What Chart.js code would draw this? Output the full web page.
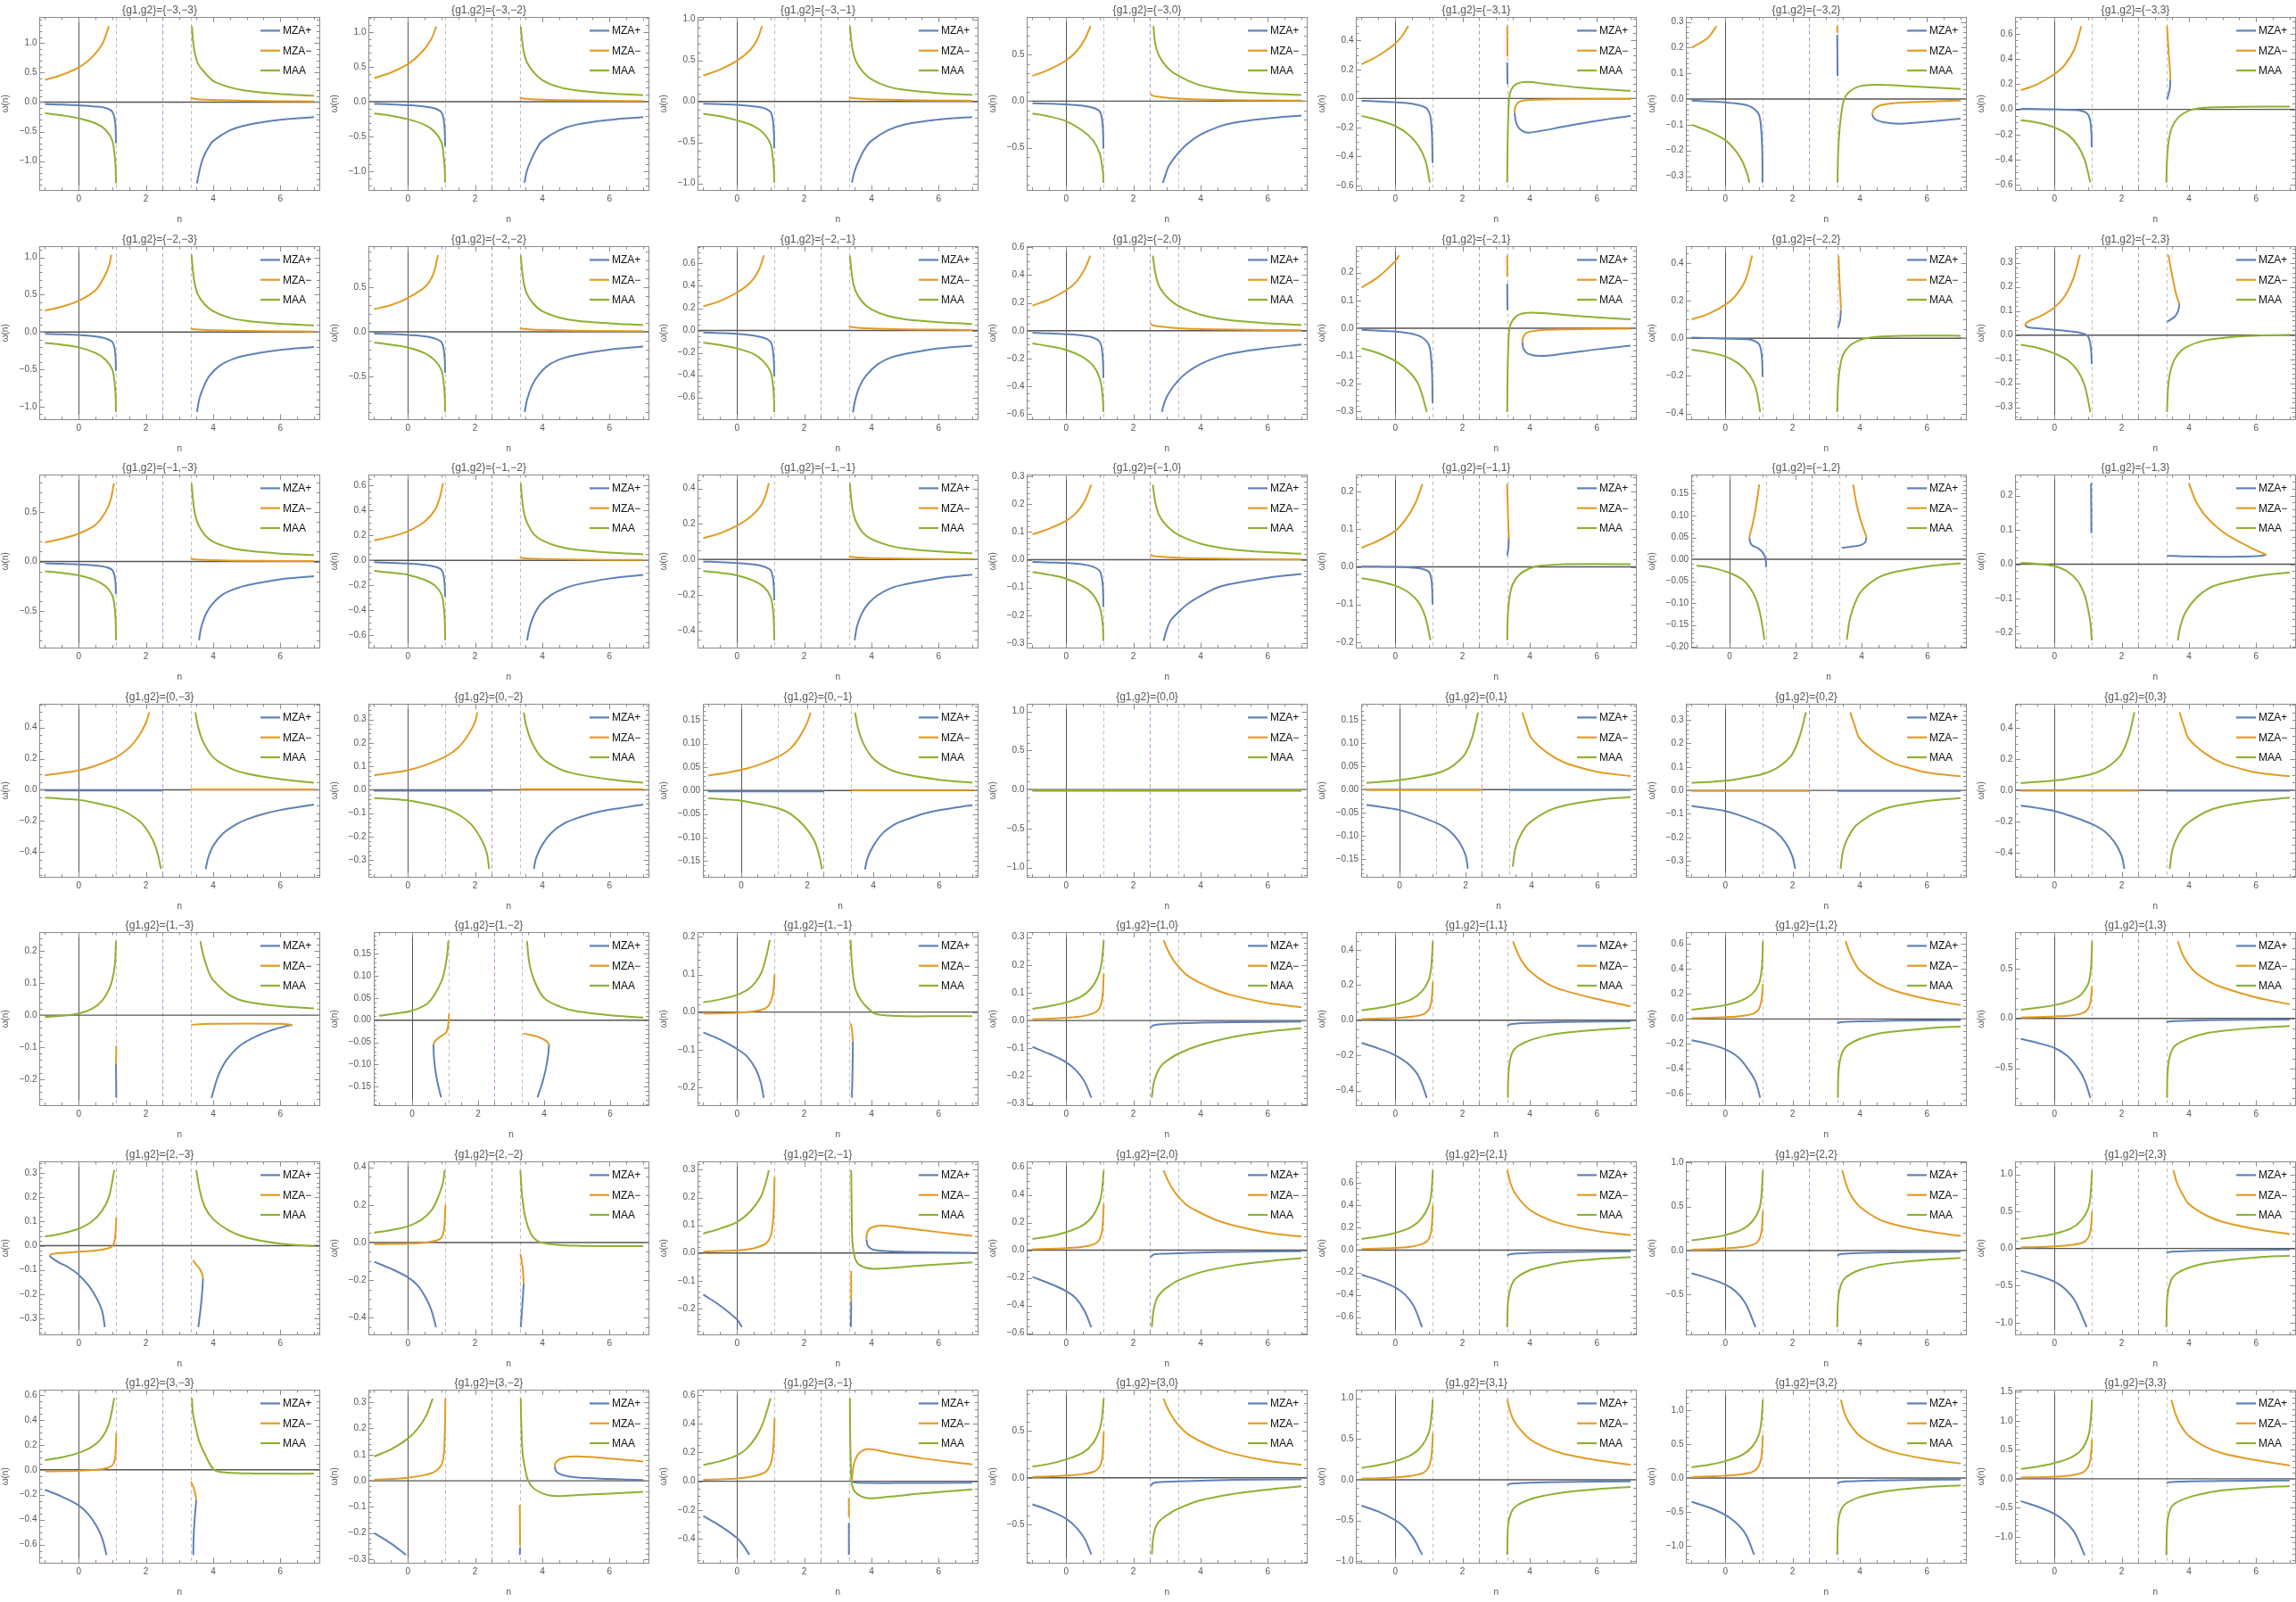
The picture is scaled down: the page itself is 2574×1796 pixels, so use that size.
<!DOCTYPE html>
<html>
<head>
<meta charset="utf-8">
<title>omega(n) grid</title>
<script src="https://cdn.jsdelivr.net/npm/chart.js@4.4.1/dist/chart.umd.min.js"></script>
<style>
  html, body { margin: 0; padding: 0; background: #fff; overflow: hidden; }
  #wrap { position: relative; width: 2574px; height: 1796px; overflow: hidden; }
  #wrap canvas { position: absolute; }
</style>
</head>
<body>
<div id="wrap"></div>
<script>
// panel parameters
const g1List = [-3, -2, -1, 0, 1, 2, 3];
const g2List = [-3, -2, -1, 0, 1, 2, 3];
const seriesNames = ['MZA+', 'MZA\u2212', 'MAA'];
const xTicks = [0, 2, 4, 6];
const guideLines = [1.11, 2.5, 3.33];

// y frame range and major step of each panel (row = g1, col = g2)
const yLow = [
  -1.49, -1.266, -1.08, -0.955, -0.632, -0.354, -0.64,
  -1.17, -0.983, -0.795, -0.637, -0.328, -0.431, -0.35,
  -0.87, -0.697, -0.497, -0.316, -0.215, -0.202, -0.243,
  -0.56, -0.372, -0.184, -1.12, -0.188, -0.368, -0.554,
  -0.281, -0.192, -0.248, -0.305, -0.483, -0.691, -0.87,
  -0.366, -0.49, -0.294, -0.61, -0.755, -0.953, -1.16,
  -0.747, -0.314, -0.568, -0.91, -1.018, -1.248, -1.45
];
const yHigh = [
  1.435, 1.21, 1.025, 0.9, 0.56, 0.318, 0.73,
  1.146, 0.957, 0.752, 0.605, 0.294, 0.4875, 0.368,
  0.875, 0.683, 0.477, 0.305, 0.245, 0.193, 0.26,
  0.551, 0.366, 0.184, 1.094, 0.184, 0.367, 0.552,
  0.258, 0.198, 0.212, 0.317, 0.498, 0.693, 0.861,
  0.346, 0.43, 0.329, 0.64, 0.79, 1.01, 1.17,
  0.64, 0.347, 0.635, 0.94, 1.1, 1.295, 1.53
];
const yStep = [
  .5, .5, .5, .5, .2, .1, .2,
  .5, .5, .2, .2, .1, .2, .1,
  .5, .2, .2, .1, .1, .05, .1,
  .2, .1, .05, .5, .05, .1, .2,
  .1, .05, .1, .1, .2, .2, .5,
  .1, .2, .1, .2, .2, .5, .5,
  .2, .1, .2, .5, .5, .5, .5
];

// curve branches, each one a flat list n,w,n,w,...
const mzaPlus = [
  // g1 = -3
  [[-1,-.035,-.5,-.042,0,-.055,.5,-.075,.8,-.1,1,-.16,1.07,-.28,1.1,-.45,1.11,-.7],[3.52,-1.375,3.6,-1.15,3.7,-.95,3.85,-.78,4,-.66,4.5,-.48,5,-.39,6,-.3,7,-.255]],
  [[-1,-.03,-.5,-.037,0,-.05,.5,-.07,.8,-.095,1,-.15,1.07,-.26,1.1,-.42,1.11,-.64],[3.47,-1.16,3.55,-.98,3.7,-.8,3.85,-.66,4,-.56,4.5,-.41,5,-.33,6,-.26,7,-.22]],
  [[-1,-.028,-.5,-.033,0,-.04,.5,-.06,.8,-.08,1,-.13,1.07,-.23,1.1,-.38,1.11,-.57],[3.42,-.99,3.5,-.85,3.65,-.7,3.8,-.58,4,-.48,4.5,-.35,5,-.28,6,-.22,7,-.19]],
  [[-1,-.022,-.5,-.027,0,-.035,.5,-.05,.8,-.07,1,-.11,1.07,-.2,1.1,-.33,1.11,-.51],[2.88,-.877,2.95,-.8,3.05,-.7,3.2,-.62,3.33,-.56,3.6,-.46,4,-.36,4.5,-.28,5,-.23,6,-.185,7,-.155]],
  [[-1,-.016,-.5,-.02,0,-.026,.5,-.036,.9,-.063,1.03,-.11,1.08,-.2,1.1,-.3,1.11,-.445],[3.33,.25,3.335,.17,3.34,.1],[3.55,-.1,3.6,-.17,3.7,-.21,3.9,-.235,4.3,-.225,5,-.195,6,-.155,7,-.12]],
  [[-1,-.006,-.5,-.009,0,-.013,.5,-.02,.8,-.033,1,-.06,1.07,-.12,1.1,-.2,1.11,-.325],[3.33,.25,3.335,.17,3.34,.09],[4.37,-.06,4.45,-.078,4.7,-.09,5.2,-.096,6,-.088,7,-.076]],
  [[-1,.005,-.5,.003,0,0,.5,-.004,.8,-.012,1,-.04,1.07,-.1,1.1,-.18,1.11,-.3],[3.45,.235,3.43,.16,3.39,.115,3.35,.08]],
  // g1 = -2
  [[-1,-.025,-.5,-.03,0,-.04,.5,-.06,.8,-.085,1,-.13,1.07,-.22,1.1,-.35,1.11,-.52],[3.52,-1.07,3.6,-.88,3.75,-.7,3.9,-.58,4.2,-.45,4.6,-.36,5,-.31,6,-.24,7,-.2]],
  [[-1,-.02,-.5,-.026,0,-.035,.5,-.05,.8,-.075,1,-.115,1.07,-.2,1.1,-.31,1.11,-.46],[3.48,-.9,3.55,-.76,3.7,-.6,3.9,-.48,4.2,-.37,4.6,-.3,5,-.26,6,-.2,7,-.165]],
  [[-1,-.018,-.5,-.023,0,-.03,.5,-.045,.8,-.065,1,-.1,1.07,-.18,1.1,-.28,1.11,-.41],[3.45,-.733,3.52,-.62,3.65,-.5,3.85,-.4,4.2,-.3,4.6,-.24,5,-.21,6,-.16,7,-.135]],
  [[-1,-.015,-.5,-.019,0,-.025,.5,-.035,.8,-.05,1,-.08,1.07,-.14,1.1,-.23,1.11,-.34],[2.85,-.584,2.92,-.52,3.05,-.45,3.33,-.36,3.6,-.3,4,-.24,4.5,-.19,5,-.16,6,-.125,7,-.1]],
  [[-1,-.006,-.5,-.009,0,-.012,.5,-.02,.8,-.033,1,-.06,1.07,-.11,1.1,-.18,1.11,-.27],[3.33,.16,3.335,.11,3.34,.065],[3.78,-.05,3.82,-.075,3.95,-.092,4.3,-.1,5,-.092,6,-.076,7,-.063]],
  [[-1,.003,-.5,.001,0,-.002,.5,-.005,.8,-.01,1,-.03,1.07,-.07,1.1,-.13,1.11,-.205],[3.44,.15,3.42,.1,3.38,.07,3.35,.056]],
  [[-.87,.04,-.8,.033,-.6,.029,-.3,.026,0,.022,.5,.015,.8,.008,1,-.005,1.07,-.04,1.1,-.08,1.11,-.12],[3.72,.128,3.68,.1,3.6,.08,3.5,.068,3.35,.055]],
  // g1 = -1
  [[-1,-.018,-.5,-.022,0,-.03,.5,-.04,.8,-.055,1,-.085,1.07,-.15,1.1,-.23,1.11,-.33],[3.58,-.795,3.65,-.66,3.8,-.52,4,-.42,4.3,-.33,4.7,-.27,5,-.24,6,-.18,7,-.148]],
  [[-1,-.015,-.5,-.019,0,-.025,.5,-.035,.8,-.05,1,-.075,1.07,-.13,1.1,-.2,1.11,-.29],[3.55,-.638,3.62,-.54,3.75,-.44,3.95,-.35,4.3,-.27,4.7,-.22,5,-.195,6,-.145,7,-.115]],
  [[-1,-.012,-.5,-.015,0,-.02,.5,-.028,.8,-.04,1,-.06,1.07,-.1,1.1,-.16,1.11,-.23],[3.5,-.455,3.57,-.38,3.7,-.31,3.9,-.25,4.2,-.2,4.6,-.16,5,-.14,6,-.105,7,-.086]],
  [[-1,-.008,-.5,-.01,0,-.012,.5,-.017,.8,-.025,1,-.04,1.07,-.07,1.1,-.11,1.11,-.17],[2.9,-.292,2.97,-.26,3.1,-.22,3.33,-.19,3.6,-.16,4,-.13,4.5,-.1,5,-.085,6,-.065,7,-.051]],
  [[-1,.001,-.5,.0005,0,0,.5,-.002,.8,-.005,1,-.013,1.07,-.03,1.1,-.06,1.11,-.1],[3.38,.075,3.37,.055,3.35,.04,3.33,.03]],
  [[.6,.05,.63,.038,.7,.031,.85,.026,.98,.018,1.06,.008,1.1,-.003,1.11,-.018],[4.15,.05,4.1,.038,3.95,.032,3.7,.029,3.4,.0265]],
  [[1.09,.236,1.095,.16,1.1,.09],[6.31,.027,6.1,.024,5.5,.022,5,.0215,4.5,.022,4,.0225,3.35,.025]],
  // g1 = 0
  [[-1,-.005,2.5,-.005],[3.78,-.51,3.85,-.44,4,-.36,4.3,-.28,4.7,-.22,5,-.19,5.5,-.155,6,-.13,7,-.095]],
  [[-1,-.004,2.5,-.004],[3.75,-.338,3.82,-.29,4,-.235,4.3,-.18,4.7,-.14,5,-.123,5.5,-.1,6,-.085,7,-.063]],
  [[-1,-.002,2.5,-.002],[3.75,-.168,3.82,-.145,4,-.118,4.3,-.09,4.7,-.07,5,-.062,5.5,-.05,6,-.042,7,-.031]],
  [[-1,-.012,7,-.012]],
  [[-1,-.033,-.5,-.038,0,-.044,.5,-.055,1.12,-.072,1.5,-.088,1.8,-.112,2,-.141,2.07,-.17],[3.33,-.001,7,-.001]],
  [[-1,-.066,-.5,-.076,0,-.088,.5,-.11,1.12,-.144,1.5,-.176,1.8,-.224,2,-.282,2.08,-.334],[3.33,-.002,7,-.002]],
  [[-1,-.098,-.5,-.113,0,-.132,.5,-.165,1.12,-.216,1.5,-.264,1.8,-.336,2,-.42,2.08,-.503],[3.33,-.003,7,-.003]],
  // g1 = 1
  [[1.11,-.153,1.115,-.2,1.12,-.258],[6.35,-.03,6.2,-.033,5.8,-.045,5.3,-.065,4.8,-.095,4.4,-.14,4.15,-.19,3.95,-.258]],
  [[.65,-.055,.66,-.08,.7,-.11,.77,-.14,.88,-.174],[4.15,-.055,4.12,-.08,4.05,-.11,3.95,-.14,3.8,-.174]],
  [[-1,-.054,-.5,-.073,0,-.098,.3,-.118,.55,-.15,.7,-.185,.8,-.228],[3.45,-.078,3.44,-.15,3.42,-.228]],
  [[-1,-.095,-.5,-.12,0,-.15,.3,-.18,.55,-.22,.75,-.278],[2.52,-.025,2.6,-.017,3,-.012,4,-.008,5,-.006,7,-.004]],
  [[-1,-.129,-.5,-.16,0,-.199,.4,-.25,.7,-.32,.94,-.441],[3.33,-.032,3.4,-.024,3.6,-.019,4,-.015,5,-.01,7,-.006]],
  [[-1,-.17,-.5,-.2,0,-.243,.4,-.31,.7,-.41,.9,-.5,1.04,-.632],[3.33,-.035,3.4,-.028,3.6,-.023,4,-.019,5,-.014,7,-.01]],
  [[-1,-.206,-.5,-.245,0,-.295,.4,-.38,.7,-.5,.9,-.62,1.07,-.796],[3.33,-.04,3.4,-.032,3.6,-.027,4,-.022,5,-.016,7,-.012]],
  // g1 = 2
  [[-.87,-.041,-.8,-.05,-.6,-.068,-.3,-.09,0,-.12,.3,-.165,.55,-.22,.7,-.27,.78,-.336],[3.7,-.135,3.67,-.2,3.62,-.27,3.56,-.336]],
  [[-1,-.103,-.5,-.14,0,-.185,.3,-.23,.55,-.3,.7,-.36,.84,-.451],[3.45,-.22,3.42,-.3,3.39,-.38,3.36,-.451]],
  [[-1,-.15,-.5,-.19,0,-.24,.15,-.267],[3.4,-.175,3.395,-.22,3.39,-.267],[3.85,.049,3.9,.025,4.05,.012,4.5,.006,5,.004,6,.002,7,.001]],
  [[-1,-.194,-.5,-.24,0,-.296,.3,-.35,.55,-.44,.75,-.557],[2.52,-.05,2.6,-.032,3,-.025,4,-.017,5,-.012,7,-.008]],
  [[-1,-.22,-.5,-.27,0,-.334,.3,-.4,.55,-.5,.8,-.69],[3.33,-.05,3.4,-.038,3.6,-.03,4,-.025,5,-.018,7,-.012]],
  [[-1,-.258,-.5,-.315,0,-.385,.3,-.46,.6,-.6,.9,-.87],[3.33,-.055,3.4,-.043,3.6,-.035,4,-.028,5,-.02,7,-.013]],
  [[-1,-.3,-.5,-.365,0,-.448,.3,-.54,.6,-.7,.96,-1.06],[3.33,-.06,3.4,-.05,3.6,-.04,4,-.033,5,-.024,7,-.016]],
  // g1 = 3
  [[-1,-.161,-.5,-.215,0,-.285,.3,-.36,.55,-.46,.7,-.55,.83,-.683],[3.5,-.242,3.45,-.4,3.42,-.55,3.41,-.683]],
  [[-1,-.2,-.5,-.24,-.05,-.284],[3.34,-.255,3.335,-.27,3.33,-.284],[4.37,.054,4.42,.035,4.6,.022,5,.013,6,.007,7,.003]],
  [[-1,-.242,-.5,-.31,0,-.395,.2,-.45,.37,-.512],[3.33,-.29,3.33,-.4,3.33,-.512],[3.42,0,3.5,-.008,4,-.012,5,-.012,7,-.01]],
  [[-1,-.283,-.5,-.35,0,-.437,.3,-.53,.55,-.65,.75,-.82],[2.52,-.082,2.6,-.055,3,-.042,4,-.03,5,-.022,7,-.015]],
  [[-1,-.317,-.5,-.39,0,-.495,.3,-.59,.55,-.72,.8,-.918],[3.33,-.068,3.4,-.052,3.6,-.043,4,-.035,5,-.026,7,-.018]],
  [[-1,-.35,-.5,-.43,0,-.543,.3,-.65,.6,-.82,.86,-1.128],[3.33,-.08,3.4,-.062,3.6,-.05,4,-.042,5,-.032,7,-.022]],
  [[-1,-.385,-.5,-.48,0,-.605,.3,-.73,.6,-.93,.9,-1.32],[3.33,-.07,3.4,-.06,3.6,-.052,4,-.045,5,-.036,7,-.028]]
];

const mzaMinus = [
  // g1 = -3
  [[-1,.375,-.5,.46,0,.585,.4,.76,.7,.98,.9,1.285],[3.33,.08,3.4,.058,3.6,.045,4,.035,5,.022,6,.015,7,.01]],
  [[-1,.34,-.5,.42,0,.54,.4,.7,.7,.9,.85,1.08],[3.33,.065,3.4,.05,3.6,.04,4,.03,5,.02,6,.013,7,.009]],
  [[-1,.315,-.5,.39,0,.495,.4,.63,.6,.75,.75,.92],[3.33,.055,3.4,.043,3.6,.035,4,.026,5,.017,6,.011,7,.008]],
  [[-1,.27,-.5,.34,0,.437,.3,.53,.55,.66,.73,.807],[2.52,.08,2.56,.06,2.8,.045,3.33,.027,4,.018,5,.011,6,.008,7,.006]],
  [[-1,.236,-.7,.27,-.4,.31,0,.378,.2,.43,.39,.5],[3.33,.5,3.335,.4,3.34,.29],[3.55,-.1,3.57,-.06,3.65,-.03,3.8,-.015,4.2,-.008,5,-.005,7,-.003]],
  [[-1,.2,-.7,.222,-.5,.24,-.26,.284],[3.33,.284,3.335,.259],[4.37,-.06,4.42,-.04,4.6,-.025,5,-.016,6,-.01,7,-.006]],
  [[-1,.152,-.5,.2,0,.28,.3,.35,.6,.48,.8,.66],[3.35,.66,3.4,.45,3.44,.3,3.45,.235]],
  // g1 = -2
  [[-1,.287,-.5,.34,0,.42,.5,.56,.75,.73,.9,.88,.97,1.035],[3.33,.05,3.4,.04,3.6,.032,4,.024,5,.015,6,.01,7,.007]],
  [[-1,.254,-.5,.3,0,.38,.5,.5,.75,.64,.9,.86],[3.33,.045,3.4,.035,3.6,.028,4,.021,5,.013,6,.009,7,.006]],
  [[-1,.216,-.5,.265,0,.34,.4,.43,.65,.54,.8,.673],[3.33,.04,3.4,.032,3.6,.025,4,.018,5,.011,6,.008,7,.005]],
  [[-1,.18,-.5,.225,0,.29,.3,.35,.55,.44,.72,.54],[2.52,.052,2.56,.04,2.8,.03,3.33,.018,4,.012,5,.008,6,.005,7,.004]],
  [[-1,.146,-.5,.185,0,.241,.11,.262],[3.33,.262,3.335,.185],[3.78,-.05,3.82,-.028,3.95,-.014,4.3,-.007,5,-.004,7,-.002]],
  [[-1,.1,-.5,.13,0,.178,.3,.225,.6,.31,.8,.44],[3.37,.44,3.4,.3,3.43,.2,3.44,.15]],
  [[-.87,.04,-.84,.05,-.7,.062,-.4,.08,0,.115,.3,.16,.55,.23,.76,.333],[3.39,.333,3.5,.25,3.62,.17,3.72,.128]],
  // g1 = -1
  [[-1,.193,-.5,.23,0,.282,.5,.37,.8,.5,.95,.62,1.05,.79],[3.33,.03,3.4,.024,3.6,.018,4,.013,5,.008,6,.005,7,.004]],
  [[-1,.16,-.5,.19,0,.232,.5,.31,.8,.4,.95,.5,1.05,.617],[3.33,.025,3.4,.02,3.6,.015,4,.011,5,.007,6,.004,7,.003]],
  [[-1,.121,-.5,.148,0,.19,.4,.24,.7,.3,.85,.36,.95,.43],[3.33,.018,3.4,.015,3.6,.011,4,.008,5,.005,6,.003,7,.002]],
  [[-1,.091,-.5,.112,0,.14,.3,.168,.55,.21,.75,.27],[2.52,.02,2.56,.015,2.8,.011,3.33,.007,4,.005,5,.003,7,.001]],
  [[-1,.051,-.5,.07,0,.096,.3,.125,.6,.17,.81,.221],[3.33,.221,3.35,.15,3.37,.1,3.38,.075]],
  [[.9,.171,.8,.12,.7,.08,.63,.06,.6,.05],[3.74,.171,3.85,.125,3.97,.09,4.08,.065,4.15,.05]],
  [[4,.236,4.2,.185,4.5,.14,5,.095,5.5,.065,5.9,.045,6.15,.034,6.31,.027]],
  // g1 = 0
  [[-1,.095,-.5,.108,0,.125,.5,.155,1.12,.21,1.5,.27,1.8,.35,2,.43,2.1,.498],[3.33,.003,7,.003]],
  [[-1,.062,-.5,.072,0,.084,.5,.104,1.12,.142,1.5,.18,1.8,.235,2,.29,2.07,.33],[3.33,.003,7,.003]],
  [[-1,.032,-.5,.037,0,.044,.5,.054,1.12,.072,1.5,.09,1.8,.118,2,.145,2.1,.166],[3.33,.001,7,.001]],
  [[-1,-.012,7,-.012]],
  [[-1,-.001,2.5,-.001],[3.72,.166,3.85,.138,4,.11,4.5,.078,5,.058,5.5,.047,6,.038,7,.029]],
  [[-1,-.002,2.5,-.002],[3.72,.332,3.85,.276,4,.22,4.5,.156,5,.116,5.5,.094,6,.076,7,.06]],
  [[-1,-.003,2.5,-.003],[3.72,.5,3.85,.414,4,.33,4.5,.234,5,.174,5.5,.141,6,.114,7,.09]],
  // g1 = 1
  [[1.12,-.095,1.115,-.125,1.11,-.153],[3.35,-.03,3.6,-.028,4,-.027,5,-.026,6,-.027,6.35,-.03]],
  [[1.12,.015,1.1,-.008,1.05,-.026,.95,-.033,.8,-.04,.7,-.047,.65,-.055],[3.37,-.03,3.5,-.032,3.75,-.036,3.95,-.042,4.08,-.048,4.15,-.055]],
  [[-1,-.004,-.5,-.003,0,-.002,.5,.002,.8,.008,.95,.018,1.05,.04,1.1,.07,1.12,.1],[3.38,-.03,3.42,-.045,3.45,-.078]],
  [[-1,.004,-.5,.007,0,.01,.5,.016,.85,.028,1,.045,1.07,.075,1.1,.11,1.12,.17],[2.9,.289,3,.26,3.15,.225,3.33,.196,3.6,.163,4,.135,4.5,.108,5,.089,6,.063,7,.048]],
  [[-1,.006,-.5,.009,0,.013,.5,.02,.85,.035,1,.06,1.07,.1,1.1,.15,1.12,.219],[3.5,.448,3.6,.4,3.75,.34,4,.28,4.5,.21,5,.17,6,.12,7,.079]],
  [[-1,.007,-.5,.01,0,.015,.5,.025,.85,.045,1,.08,1.07,.14,1.1,.2,1.12,.28],[3.58,.623,3.7,.53,3.85,.45,4,.39,4.5,.29,5,.23,6,.16,7,.111]],
  [[-1,.01,-.5,.014,0,.02,.5,.03,.85,.055,1,.095,1.07,.16,1.1,.24,1.12,.324],[3.67,.773,3.8,.65,3.95,.56,4.2,.46,4.6,.37,5,.31,6,.21,7,.142]],
  // g1 = 2
  [[-.87,-.041,-.8,-.035,-.6,-.031,-.3,-.028,0,-.025,.5,-.02,.85,-.012,1,-.002,1.07,.02,1.1,.06,1.12,.116],[3.4,-.06,3.48,-.075,3.6,-.095,3.67,-.115,3.7,-.135]],
  [[-1,-.009,-.5,-.008,0,-.006,.5,-.001,.85,.01,1,.025,1.07,.06,1.1,.12,1.12,.2],[3.35,-.06,3.38,-.09,3.42,-.14,3.45,-.22]],
  [[-1,.005,-.5,.007,0,.0095,.5,.017,.85,.033,1,.06,1.07,.11,1.1,.18,1.12,.273],[3.4,-.065,3.4,-.12,3.4,-.175],[3.85,.049,3.87,.07,3.95,.088,4.2,.098,4.5,.097,5,.09,6,.075,7,.062]],
  [[-1,.007,-.5,.01,0,.015,.5,.025,.85,.045,1,.08,1.07,.14,1.1,.22,1.12,.332],[2.9,.577,3,.52,3.15,.45,3.33,.39,3.6,.325,4,.27,4.5,.215,5,.178,6,.127,7,.098]],
  [[-1,.01,-.5,.014,0,.02,.5,.032,.85,.06,1,.1,1.07,.17,1.1,.27,1.12,.4],[3.33,.713,3.45,.58,3.6,.49,4,.36,4.5,.28,5,.23,6,.17,7,.134]],
  [[-1,.01,-.5,.016,0,.025,.5,.04,.85,.07,1,.12,1.07,.2,1.1,.3,1.12,.45],[3.48,.913,3.6,.75,3.75,.62,4,.5,4.5,.37,5,.3,6,.22,7,.167]],
  [[-1,.015,-.5,.02,0,.03,.5,.048,.85,.08,1,.14,1.07,.23,1.1,.34,1.12,.5],[3.54,1.056,3.65,.88,3.8,.74,4,.6,4.5,.45,5,.36,6,.26,7,.194]],
  // g1 = 3
  [[-1,-.012,-.5,-.011,0,-.008,.5,0,.85,.015,1,.035,1.07,.07,1.1,.15,1.12,.296],[3.34,-.095,3.4,-.13,3.46,-.18,3.5,-.242]],
  [[-1,.0034,-.5,.007,0,.011,.5,.022,.8,.035,1,.06,1.07,.1,1.1,.18,1.12,.315],[3.33,-.092,3.335,-.17,3.34,-.248],[4.37,.054,4.4,.07,4.55,.085,5,.093,6,.085,7,.074]],
  [[-1,.01,-.5,.014,0,.02,.5,.035,.85,.065,1,.12,1.07,.2,1.1,.3,1.12,.44],[3.33,-.117,3.33,-.18,3.33,-.252],[3.42,0,3.45,.08,3.52,.15,3.65,.2,3.9,.225,4.5,.2,5.5,.16,7,.117]],
  [[-1,.01,-.5,.016,0,.025,.5,.04,.85,.07,1,.12,1.07,.2,1.1,.32,1.12,.497],[2.9,.85,3,.76,3.15,.66,3.33,.57,3.6,.475,4,.39,4.5,.31,5,.255,6,.183,7,.14]],
  [[-1,.015,-.5,.02,0,.03,.5,.05,.85,.09,1,.16,1.07,.27,1.1,.4,1.12,.573],[3.33,.986,3.45,.8,3.6,.68,4,.5,4.5,.39,5,.32,6,.24,7,.185]],
  [[-1,.015,-.5,.022,0,.035,.5,.055,.85,.1,1,.18,1.07,.3,1.1,.45,1.12,.632],[3.44,1.154,3.55,.95,3.7,.8,4,.62,4.5,.47,5,.38,6,.28,7,.214]],
  [[-1,.02,-.5,.026,0,.035,.5,.06,.85,.11,1,.2,1.07,.33,1.1,.5,1.12,.68],[3.48,1.36,3.6,1.12,3.75,.93,4,.74,4.5,.55,5,.44,6,.32,7,.23]]
];

const maa = [
  // g1 = -3
  [[-1,-.19,-.5,-.225,0,-.275,.5,-.36,.8,-.47,1,-.65,1.07,-.9,1.1,-1.1,1.11,-1.375],[3.37,1.285,3.4,1.05,3.45,.85,3.55,.65,3.75,.5,4,.36,4.5,.25,5,.19,6,.135,7,.11]],
  [[-1,-.17,-.5,-.2,0,-.25,.5,-.33,.8,-.43,1,-.58,1.07,-.8,1.1,-.97,1.11,-1.16],[3.36,1.08,3.4,.88,3.45,.72,3.55,.56,3.75,.42,4,.31,4.5,.21,5,.165,6,.12,7,.095]],
  [[-1,-.15,-.5,-.18,0,-.23,.5,-.3,.8,-.39,1,-.52,1.07,-.7,1.1,-.84,1.11,-.99],[3.36,.92,3.4,.75,3.45,.61,3.55,.48,3.75,.36,4,.27,4.5,.18,5,.14,6,.1,7,.08]],
  [[-1,-.133,-.5,-.165,0,-.215,.5,-.32,.8,-.42,1,-.56,1.07,-.69,1.1,-.78,1.11,-.877],[2.6,.807,2.65,.62,2.75,.5,2.9,.41,3.1,.33,3.33,.275,3.6,.225,4,.17,4.5,.13,5,.105,6,.08,7,.066]],
  [[-1,-.12,-.5,-.15,0,-.19,.4,-.25,.7,-.33,.9,-.43,1.03,-.58],[3.33,-.58,3.34,-.35,3.36,-.15,3.39,0,3.45,.06,3.6,.1,3.9,.115,4.5,.1,5.5,.075,7,.053]],
  [[-1,-.1,-.5,-.125,0,-.16,.3,-.2,.5,-.24,.65,-.29,.72,-.325],[3.34,-.325,3.36,-.2,3.4,-.12,3.46,-.05,3.54,0,3.7,.03,4,.05,4.46,.056,5.5,.05,7,.039]],
  [[-1,-.086,-.5,-.105,0,-.143,.4,-.2,.7,-.29,.9,-.4,1.07,-.58],[3.33,-.58,3.35,-.4,3.4,-.25,3.5,-.14,3.7,-.06,4,-.01,4.2,.005,4.6,.015,5.5,.021,7,.022]],
  // g1 = -2
  [[-1,-.146,-.5,-.17,0,-.205,.5,-.28,.8,-.37,1,-.5,1.07,-.68,1.1,-.86,1.11,-1.07],[3.36,1.035,3.4,.82,3.45,.66,3.55,.5,3.75,.37,4,.28,4.5,.19,5,.15,6,.11,7,.09]],
  [[-1,-.12,-.5,-.145,0,-.175,.5,-.24,.8,-.32,1,-.43,1.07,-.58,1.1,-.73,1.11,-.9],[3.36,.86,3.4,.69,3.45,.55,3.55,.42,3.75,.31,4,.23,4.5,.16,5,.125,6,.095,7,.075]],
  [[-1,-.108,-.5,-.13,0,-.16,.5,-.21,.8,-.28,1,-.37,1.07,-.48,1.1,-.6,1.11,-.733],[3.36,.673,3.4,.55,3.45,.44,3.55,.34,3.75,.25,4,.19,4.5,.13,5,.1,6,.075,7,.058]],
  [[-1,-.092,-.5,-.112,0,-.138,.5,-.19,.8,-.25,1,-.34,1.07,-.43,1.1,-.51,1.11,-.584],[2.58,.54,2.65,.42,2.75,.33,2.9,.27,3.1,.22,3.33,.18,3.6,.15,4,.115,4.5,.088,5,.072,6,.053,7,.042]],
  [[-1,-.072,-.5,-.09,0,-.118,.4,-.155,.7,-.205,.94,-.302],[3.33,-.302,3.34,-.18,3.36,-.08,3.4,0,3.5,.03,3.7,.05,4.1,.056,5,.048,6,.039,7,.032]],
  [[-1,-.061,-.5,-.075,0,-.097,.4,-.135,.7,-.19,.9,-.26,1.04,-.392],[3.33,-.392,3.35,-.27,3.4,-.17,3.5,-.09,3.7,-.04,4,-.01,4.3,.003,4.8,.011,6,.014,7,.013]],
  [[-1,-.04,-.5,-.053,0,-.076,.4,-.105,.7,-.15,.9,-.21,1.07,-.32],[3.35,-.32,3.38,-.22,3.45,-.15,3.6,-.095,3.9,-.052,4.5,-.022,5.5,-.006,7,.002]],
  // g1 = -1
  [[-1,-.098,-.5,-.115,0,-.14,.5,-.19,.8,-.25,1,-.34,1.07,-.46,1.1,-.6,1.11,-.795],[3.36,.79,3.4,.63,3.45,.5,3.55,.38,3.75,.27,4,.2,4.5,.14,5,.11,6,.08,7,.065]],
  [[-1,-.084,-.5,-.098,0,-.115,.5,-.155,.8,-.2,1,-.27,1.07,-.37,1.1,-.48,1.11,-.638],[3.36,.617,3.4,.49,3.45,.39,3.55,.3,3.75,.21,4,.16,4.5,.11,5,.085,6,.062,7,.049]],
  [[-1,-.065,-.5,-.075,0,-.089,.5,-.12,.8,-.155,1,-.21,1.07,-.28,1.1,-.36,1.11,-.455],[3.36,.43,3.4,.34,3.45,.27,3.55,.21,3.75,.15,4,.115,4.5,.08,5,.062,6,.045,7,.035]],
  [[-1,-.044,-.5,-.054,0,-.068,.5,-.095,.8,-.125,1,-.17,1.07,-.21,1.1,-.25,1.11,-.292],[2.58,.27,2.65,.21,2.75,.165,2.9,.135,3.1,.11,3.33,.09,3.6,.075,4,.058,4.5,.045,5,.036,6,.027,7,.022]],
  [[-1,-.03,-.5,-.038,0,-.05,.4,-.068,.7,-.095,.9,-.135,1.05,-.195],[3.33,-.195,3.35,-.13,3.4,-.08,3.5,-.045,3.7,-.02,4,-.004,4.3,.003,5,.007,6,.008,7,.007]],
  [[-1,-.014,-.5,-.02,0,-.031,.4,-.047,.7,-.075,.9,-.115,1.06,-.184],[3.55,-.184,3.65,-.135,3.8,-.1,4,-.072,4.5,-.042,5,-.029,6,-.016,7,-.009]],
  [[-1,.004,-.5,.001,0,-.006,.4,-.022,.7,-.05,.9,-.09,1,-.13,1.07,-.17,1.11,-.222],[3.67,-.222,3.75,-.18,3.9,-.14,4.2,-.1,4.6,-.07,5,-.056,6,-.035,7,-.024]],
  // g1 = 0
  [[-1,-.051,-.5,-.057,0,-.064,.5,-.085,1.12,-.117,1.5,-.155,1.9,-.22,2.2,-.32,2.35,-.41,2.45,-.51],[3.47,.498,3.55,.41,3.7,.31,4,.21,4.5,.14,5,.105,6,.068,7,.045]],
  [[-1,-.035,-.5,-.039,0,-.045,.5,-.058,1.12,-.08,1.5,-.105,1.9,-.15,2.2,-.215,2.35,-.27,2.42,-.338],[3.45,.33,3.53,.27,3.7,.2,4,.135,4.5,.09,5,.068,6,.045,7,.03]],
  [[-1,-.0166,-.5,-.019,0,-.0217,.5,-.028,1.12,-.038,1.5,-.05,1.9,-.075,2.2,-.105,2.35,-.135,2.45,-.168],[3.45,.166,3.53,.135,3.7,.1,4,.068,4.5,.045,5,.034,6,.023,7,.0166]],
  [[-1,-.012,7,-.012]],
  [[-1,.0142,-.5,.017,0,.0207,.5,.026,1.12,.035,1.5,.046,1.8,.062,2,.078,2.2,.112,2.38,.166],[3.43,-.166,3.5,-.13,3.6,-.108,3.8,-.082,4,-.068,4.5,-.046,5,-.034,6,-.022,7,-.016]],
  [[-1,.0326,-.5,.036,0,.041,.5,.052,1.12,.07,1.5,.092,1.8,.124,2,.156,2.2,.224,2.4,.332],[3.43,-.334,3.5,-.26,3.6,-.216,3.8,-.164,4,-.136,4.5,-.092,5,-.068,6,-.045,7,-.0326]],
  [[-1,.047,-.5,.054,0,.063,.5,.078,1.12,.105,1.5,.138,1.8,.186,2,.234,2.2,.336,2.38,.5],[3.43,-.503,3.5,-.39,3.6,-.324,3.8,-.246,4,-.204,4.5,-.138,5,-.102,6,-.067,7,-.047]],
  // g1 = 1
  [[-1,-.0055,-.5,-.002,0,.005,.4,.02,.7,.045,.9,.08,1,.11,1.08,.16,1.11,.231],[3.62,.231,3.7,.19,3.85,.14,4,.11,4.5,.062,5,.042,6,.028,7,.021]],
  [[-1,.01,-.5,.015,0,.0216,.5,.04,.9,.09,1.05,.14,1.1,.179],[3.48,.179,3.55,.13,3.7,.09,4,.05,4.5,.03,5,.02,6,.011,7,.006]],
  [[-1,.026,-.5,.034,0,.0457,.4,.065,.7,.1,.85,.14,.98,.192],[3.38,.192,3.42,.13,3.48,.08,3.55,.055,3.7,.03,3.9,.01,4.1,-.004,4.5,-.009,5,-.011,6,-.011,7,-.011]],
  [[-1,.0416,-.5,.052,0,.065,.5,.09,.8,.125,1,.175,1.07,.22,1.12,.289],[2.55,-.278,2.6,-.23,2.7,-.19,2.85,-.16,3,-.145,3.33,-.12,4,-.088,5,-.058,6,-.04,7,-.028]],
  [[-1,.057,-.5,.07,0,.089,.5,.12,.8,.165,1,.23,1.07,.3,1.12,.448],[3.35,-.441,3.37,-.3,3.45,-.2,3.6,-.155,4,-.115,4.5,-.088,5,-.072,6,-.055,7,-.043]],
  [[-1,.075,-.5,.09,0,.111,.5,.15,.8,.2,1,.28,1.07,.37,1.1,.45,1.12,.623],[3.35,-.632,3.37,-.42,3.45,-.29,3.6,-.22,4,-.16,4.5,-.12,5,-.1,6,-.075,7,-.059]],
  [[-1,.088,-.5,.107,0,.133,.5,.18,.8,.24,1,.34,1.07,.45,1.1,.56,1.12,.773],[3.35,-.796,3.37,-.52,3.45,-.36,3.6,-.27,4,-.2,4.5,-.15,5,-.125,6,-.095,7,-.077]],
  // g1 = 2
  [[-1,.0376,-.5,.05,0,.07,.4,.1,.7,.145,.9,.2,1.06,.311],[3.5,.311,3.6,.23,3.75,.16,4,.11,4.5,.06,5,.033,6,.008,7,-.002]],
  [[-1,.052,-.5,.066,0,.086,.4,.12,.7,.17,.9,.24,1.05,.32,1.09,.384],[3.35,.384,3.4,.25,3.5,.13,3.65,.05,3.8,.015,4,-.002,4.5,-.013,5,-.017,6,-.019,7,-.019]],
  [[-1,.07,-.5,.088,0,.111,.4,.15,.7,.2,.85,.25,.95,.298],[3.4,.298,3.41,.2,3.42,.1,3.45,.02,3.55,-.03,3.75,-.05,4.05,-.057,4.5,-.055,5.5,-.045,7,-.034]],
  [[-1,.081,-.5,.1,0,.13,.5,.18,.8,.25,1,.35,1.07,.44,1.12,.577],[2.55,-.557,2.6,-.44,2.7,-.35,2.85,-.3,3,-.27,3.33,-.22,4,-.16,5,-.11,6,-.08,7,-.057]],
  [[-1,.1,-.5,.122,0,.153,.5,.21,.8,.29,1,.4,1.07,.5,1.12,.713],[3.33,-.69,3.36,-.45,3.45,-.32,3.6,-.25,4,-.18,4.5,-.14,5,-.11,6,-.08,7,-.063]],
  [[-1,.117,-.5,.142,0,.177,.5,.24,.8,.33,1,.46,1.07,.6,1.12,.913],[3.33,-.87,3.36,-.55,3.45,-.38,3.6,-.3,4,-.22,4.5,-.17,5,-.14,6,-.105,7,-.084]],
  [[-1,.131,-.5,.16,0,.198,.5,.27,.8,.38,1,.53,1.07,.7,1.12,1.056],[3.33,-1.06,3.36,-.65,3.45,-.45,3.6,-.35,4,-.26,4.5,-.2,5,-.165,6,-.12,7,-.096]],
  // g1 = 3
  [[-1,.076,-.5,.1,0,.135,.4,.185,.7,.26,.9,.37,1.06,.576],[3.37,.576,3.4,.45,3.5,.32,3.6,.22,3.8,.1,4.03,0,4.3,-.02,5,-.029,6,-.031,7,-.031]],
  [[-1,.093,-.5,.12,0,.161,.3,.2,.55,.25,.74,.315],[3.36,.315,3.38,.2,3.42,.1,3.5,.04,3.58,0,3.75,-.03,4,-.048,4.3,-.058,5,-.055,6,-.049,7,-.042]],
  [[-1,.113,-.5,.14,0,.18,.3,.23,.6,.32,.8,.42,1,.578],[3.36,.578,3.37,.3,3.39,.1,3.42,-.02,3.5,-.07,3.7,-.105,3.95,-.119,4.5,-.108,5.5,-.085,7,-.057]],
  [[-1,.12,-.5,.15,0,.198,.5,.27,.8,.37,1,.52,1.07,.65,1.12,.85],[2.55,-.82,2.6,-.62,2.7,-.5,2.85,-.44,3,-.4,3.33,-.33,4,-.24,5,-.17,6,-.125,7,-.09]],
  [[-1,.146,-.5,.18,0,.228,.5,.31,.8,.42,1,.58,1.07,.75,1.12,.986],[3.33,-.918,3.36,-.55,3.45,-.4,3.6,-.32,4,-.24,4.5,-.19,5,-.155,6,-.115,7,-.088]],
  [[-1,.158,-.5,.195,0,.248,.5,.34,.8,.46,1,.64,1.07,.82,1.12,1.154],[3.33,-1.128,3.36,-.65,3.45,-.46,3.6,-.37,4,-.28,4.5,-.22,5,-.18,6,-.135,7,-.107]],
  [[-1,.17,-.5,.21,0,.27,.5,.37,.8,.5,1,.72,1.07,.95,1.12,1.36],[3.33,-1.32,3.36,-.75,3.45,-.52,3.6,-.42,4,-.32,4.5,-.25,5,-.2,6,-.155,7,-.125]]
];

// ---- drawing ----
const colors = ['#5e81b5', '#e19c24', '#8fb032'];
const FONT = '"Liberation Sans", Arial, sans-serif';
Chart.defaults.font.family = FONT;

function toPoints(segs) {
  const pts = [];
  segs.forEach((s, k) => {
    if (k) pts.push({x: s[0], y: null});
    for (let i = 0; i < s.length; i += 2) pts.push({x: s[i], y: s[i + 1]});
  });
  return pts;
}

function majorsFor(lo, hi, step) {
  const out = [];
  for (let k = Math.ceil(lo / step - 1e-9); k <= Math.floor(hi / step + 1e-9); k++) {
    out.push(Math.round(k * step * 1e6) / 1e6);
  }
  return out;
}

function minorStep(step) {
  if (step === 0.5) return 0.1;
  if (step === 0.2) return 0.05;
  if (step === 0.1) return 0.02;
  return 0.01;
}

function fmt(v, dec) {
  const s = Math.abs(v).toFixed(dec);
  return (v < -1e-9 ? '\u2212' : '') + s;
}

const panelDecor = {
  id: 'panelDecor',
  beforeDatasetsDraw(chart) {
    const {ctx, chartArea: a, scales: {x, y}} = chart;
    ctx.save();
    ctx.beginPath(); ctx.rect(a.left, a.top, a.width, a.height); ctx.clip();
    ctx.lineWidth = 1;
    ctx.setLineDash([4, 3.5]);
    guideLines.forEach((g, i) => {
      const px = Math.round(x.getPixelForValue(g)) + 0.5;
      ctx.strokeStyle = i === 1 ? '#c08ccc' : '#bcbcbc';
      ctx.beginPath(); ctx.moveTo(px, a.top); ctx.lineTo(px, a.bottom); ctx.stroke();
    });
    ctx.setLineDash([]);
    ctx.strokeStyle = '#555';
    const x0 = Math.round(x.getPixelForValue(0)) + 0.5, y0 = y.getPixelForValue(0);
    ctx.lineWidth = 1;
    ctx.beginPath(); ctx.moveTo(x0, a.top); ctx.lineTo(x0, a.bottom); ctx.stroke();
    ctx.lineWidth = 1.4;
    ctx.beginPath(); ctx.moveTo(a.left, y0); ctx.lineTo(a.right, y0); ctx.stroke();
    ctx.restore();
  },
  afterDatasetsDraw(chart, args, opts) {
    const {ctx, chartArea: a, scales: {x, y}} = chart;
    ctx.save();
    ctx.strokeStyle = '#8a8a8a';
    ctx.lineWidth = 1;
    ctx.strokeRect(Math.round(a.left) + 0.5, Math.round(a.top) + 0.5, Math.round(a.width), Math.round(a.height));
    ctx.beginPath();
    // x ticks, bottom and top
    for (let v = -1; v <= 7.001; v += 0.5) {
      const len = xTicks.includes(v) ? 5.5 : 3;
      const px = Math.round(x.getPixelForValue(v)) + 0.5;
      ctx.moveTo(px, a.bottom); ctx.lineTo(px, a.bottom - len);
      ctx.moveTo(px, a.top); ctx.lineTo(px, a.top + len);
    }
    // y ticks, left and right
    const step = opts.step, ms = minorStep(step);
    for (let k = Math.ceil(y.min / ms - 1e-9); k <= Math.floor(y.max / ms + 1e-9); k++) {
      const v = k * ms;
      const major = Math.abs(v / step - Math.round(v / step)) < 1e-6;
      const len = major ? 5.5 : 3;
      const py = Math.round(y.getPixelForValue(v)) + 0.5;
      ctx.moveTo(a.left, py); ctx.lineTo(a.left + len, py);
      ctx.moveTo(a.right, py); ctx.lineTo(a.right - len, py);
    }
    ctx.stroke();
    ctx.restore();
  },
  afterDraw(chart) {
    const {ctx, chartArea: a} = chart;
    ctx.save();
    ctx.font = '12px ' + FONT;
    ctx.textBaseline = 'middle';
    ctx.textAlign = 'left';
    seriesNames.forEach((name, i) => {
      const yy = a.top + 15 + i * 22.3;
      ctx.strokeStyle = colors[i];
      ctx.lineWidth = 2.2;
      ctx.beginPath(); ctx.moveTo(a.right - 66, yy); ctx.lineTo(a.right - 44, yy); ctx.stroke();
      ctx.fillStyle = '#111';
      ctx.fillText(name, a.right - 41, yy + 0.5);
    });
    ctx.restore();
  }
};

const wrap = document.getElementById('wrap');
g1List.forEach((g1, r) => {
  g2List.forEach((g2, c) => {
    const k = r * 7 + c;
    const cv = document.createElement('canvas');
    cv.width = 369; cv.height = 257;
    cv.style.left = Math.round(c * 369.1) + 'px';
    cv.style.top = Math.round(r * 256.57) + 'px';
    wrap.appendChild(cv);
    const dec = yStep[k] < 0.1 ? 2 : 1;
    const sources = [mzaPlus, mzaMinus, maa];
    new Chart(cv, {
      type: 'scatter',
      data: {
        datasets: sources.map((src, i) => ({
          label: seriesNames[i],
          data: toPoints(src[k]),
          showLine: true,
          borderColor: colors[i],
          backgroundColor: colors[i],
          borderWidth: 2,
          pointRadius: 0,
          tension: 0.35,
          spanGaps: false,
          order: 2 - i
        }))
      },
      options: {
        responsive: false,
        animation: false,
        events: [],
        layout: {padding: {left: 0, right: 11, top: 0, bottom: 0}},
        plugins: {
          legend: {display: false},
          tooltip: {enabled: false},
          title: {
            display: true,
            text: '{g1,g2}={' + fmt(g1, 0) + ',' + fmt(g2, 0) + '}',
            color: '#555',
            font: {size: 12, weight: 'normal'},
            padding: {top: 4.5, bottom: 0.5}
          },
          panelDecor: {step: yStep[k]}
        },
        scales: {
          x: {
            type: 'linear',
            min: -1.16,
            max: 7.16,
            afterBuildTicks: s => { s.ticks = xTicks.map(v => ({value: v})); },
            grid: {display: false, drawTicks: false},
            border: {display: false},
            ticks: {padding: 4, color: '#555', font: {size: 10}, maxRotation: 0, callback: v => fmt(v, 0)},
            title: {display: true, text: 'n', color: '#555', font: {size: 10}, padding: {top: 7.3, bottom: 4.6}}
          },
          y: {
            type: 'linear',
            min: yLow[k],
            max: yHigh[k],
            afterBuildTicks: s => { s.ticks = majorsFor(yLow[k], yHigh[k], yStep[k]).map(v => ({value: v})); },
            grid: {display: false, drawTicks: false},
            border: {display: false},
            ticks: {padding: 3, color: '#555', font: {size: 10}, callback: v => fmt(v, dec)},
            title: {display: true, text: '\u03c9(n)', color: '#555', font: {size: 10}, padding: {top: 0.7, bottom: 6}}
          }
        }
      },
      plugins: [panelDecor]
    });
  });
});
</script>
</body>
</html>
